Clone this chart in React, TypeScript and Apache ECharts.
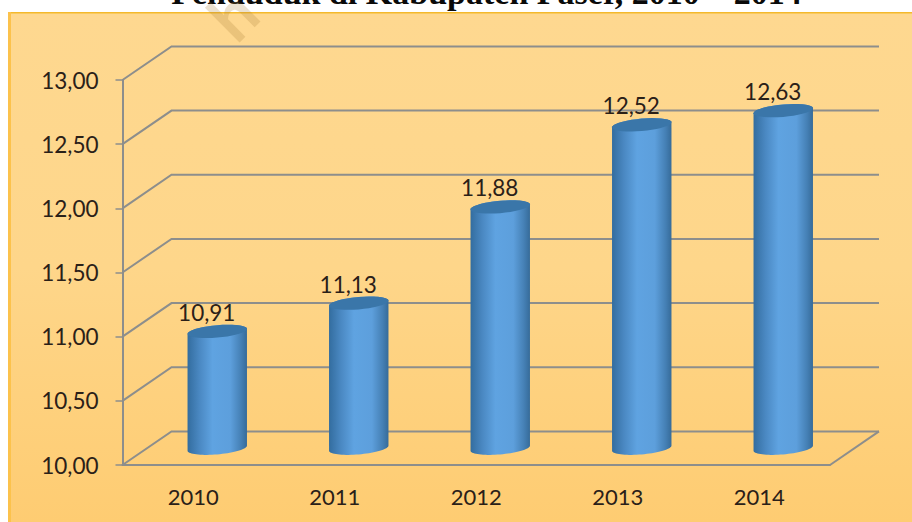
import React, { useEffect, useRef } from "react";
import * as echarts from "echarts";

const years = ["2010", "2011", "2012", "2013", "2014"];
const population = [10.91, 11.13, 11.88, 12.52, 12.63];
const valueTicks = [10, 10.5, 11, 11.5, 12, 12.5, 13];
const chartTitle = "Penduduk di Kabupaten Paser, 2010 – 2014";
const stamp = "h";

const comma = (v: number) => v.toFixed(2).replace(".", ",");
const UI_FONT = "Lato, 'Open Sans', sans-serif";
const INK = "#2a2018";
const RULE = "#8d8e8c";

// Offset of the back wall from the front axes, in pixels.
const WALL = { x: 49, y: -33.6 };

// Closed outline of a cylinder end: an ellipse sheared so its left side sits lower.
function ellipseArc(cx: number, cy: number, rx: number, ry: number, from: number, to: number) {
  const pts: number[][] = [];
  const steps = 36;
  for (let i = 0; i <= steps; i++) {
    const t = from + ((to - from) * i) / steps;
    const px = rx * Math.cos(t);
    pts.push([cx + px, cy + ry * Math.sin(t) - px * 0.085]);
  }
  return pts;
}

function renderCylinder(_: any, api: any) {
  const band = api.size([1, 0])[0];
  const top = api.coord([api.value(0), api.value(1)]);
  const base = api.coord([api.value(0), 10]);
  const cx = top[0] + WALL.x / 2 - 0.5;
  const topY = top[1] + WALL.y / 2;
  const baseY = base[1] + WALL.y / 2;
  const rx = band * 0.21;
  const ry = 6.2;
  const body = [
    ...ellipseArc(cx, baseY, rx, ry, 0, Math.PI),
    ...ellipseArc(cx, topY, rx, ry, Math.PI, 2 * Math.PI),
  ];
  const shade = new echarts.graphic.LinearGradient(0, 0, 1, 0, [
    { offset: 0, color: "#336d9f" },
    { offset: 0.2, color: "#4a88c2" },
    { offset: 0.42, color: "#5fa3e1" },
    { offset: 0.72, color: "#5d9fdc" },
    { offset: 0.9, color: "#4580b5" },
    { offset: 1, color: "#366b99" },
  ]);
  return {
    type: "group",
    children: [
      { type: "polygon", shape: { points: body }, style: { fill: shade } },
      {
        type: "polygon",
        shape: { points: ellipseArc(cx, topY, rx, ry, 0, 2 * Math.PI) },
        style: { fill: "#3a76a9" },
      },
      {
        type: "text",
        style: {
          text: comma(api.value(1)),
          x: cx - 10.5,
          y: topY - 19,
          align: "center",
          verticalAlign: "middle",
          fill: INK,
          font: `22.5px ${UI_FONT}`,
        },
      },
    ],
  };
}

// Level lines: up the side wall from the value axis, then across the back wall.
function renderWallLine(params: any, api: any) {
  const sys = params.coordSys;
  const y = api.coord([0, api.value(1)])[1];
  const points = [
    [sys.x, y],
    [sys.x + WALL.x, y + WALL.y],
    [sys.x + sys.width + WALL.x, y + WALL.y],
  ];
  const lines: any[] = [
    { type: "polyline", shape: { points }, style: { stroke: RULE, lineWidth: 2, fill: "none" } },
  ];
  if (api.value(1) === valueTicks[0]) {
    lines.push({
      type: "polyline",
      shape: {
        points: [
          [sys.x + sys.width + WALL.x, y + WALL.y],
          [sys.x + sys.width, y],
        ],
      },
      style: { stroke: RULE, lineWidth: 2, fill: "none" },
    });
  }
  return { type: "group", children: lines };
}

export default function App() {
  const ref = useRef<HTMLDivElement>(null);

  useEffect(() => {
    if (!ref.current) return;
    const chart = echarts.init(ref.current, undefined, { renderer: "svg" });
    chart.setOption({
      animation: false,
      backgroundColor: "#ffffff",
      grid: { left: 122.5, right: 82, top: 80, bottom: 57, containLabel: false },
      xAxis: {
        type: "category",
        data: years,
        axisLine: { lineStyle: { color: RULE, width: 2 } },
        axisTick: { length: 7, lineStyle: { color: RULE, width: 1.5 } },
        axisLabel: { color: INK, fontFamily: UI_FONT, fontSize: 22, margin: 20 },
      },
      yAxis: {
        type: "value",
        min: 10,
        max: 13,
        interval: 0.5,
        splitLine: { show: false },
        axisLine: { show: true, lineStyle: { color: RULE, width: 2 } },
        axisTick: { show: true, length: 7, lineStyle: { color: RULE, width: 1.5 } },
        axisLabel: {
          color: INK,
          fontFamily: UI_FONT,
          fontSize: 22.5,
          margin: 24,
          formatter: (v: number) => comma(v),
        },
      },
      graphic: [
        {
          type: "rect",
          z: -2,
          shape: { x: 8, y: 12, width: 904, height: 510 },
          style: {
            fill: new echarts.graphic.LinearGradient(0, 0, 0, 1, [
              { offset: 0, color: "#fed890" },
              { offset: 0.5, color: "#fed68a" },
              { offset: 1, color: "#fecc72" },
            ]),
          },
        },
        { type: "rect", z: -1, shape: { x: 8, y: 12, width: 904, height: 1.5 }, style: { fill: "#f4b92c" } },
        { type: "rect", z: -1, shape: { x: 8, y: 12, width: 3, height: 510 }, style: { fill: "#fcc24c" } },
        {
          type: "text",
          z: 10,
          x: 486.5,
          y: 9.5,
          style: {
            text: chartTitle,
            align: "center",
            verticalAlign: "bottom",
            fill: "#0a0a0a",
            font: "bold 34px 'Liberation Serif', serif",
          },
        },
        {
          type: "text",
          z: 11,
          x: 232,
          y: 14,
          rotation: Math.PI / 4,
          style: {
            text: stamp,
            align: "center",
            verticalAlign: "middle",
            fill: "rgba(170,130,60,0.24)",
            font: "bold 66px Lato, sans-serif",
          },
        },
      ],
      series: [
        {
          type: "custom",
          z: 1,
          data: valueTicks.map((v) => [0, v]),
          encode: { x: 0, y: 1 },
          renderItem: renderWallLine,
          silent: true,
        },
        {
          type: "custom",
          z: 3,
          data: population.map((v, i) => [i, v]),
          encode: { x: 0, y: 1 },
          renderItem: renderCylinder,
          silent: true,
        },
      ],
    });
    return () => chart.dispose();
  }, []);

  return <div ref={ref} style={{ position: "absolute", left: 0, top: 0, width: 912, height: 522 }} />;
}
